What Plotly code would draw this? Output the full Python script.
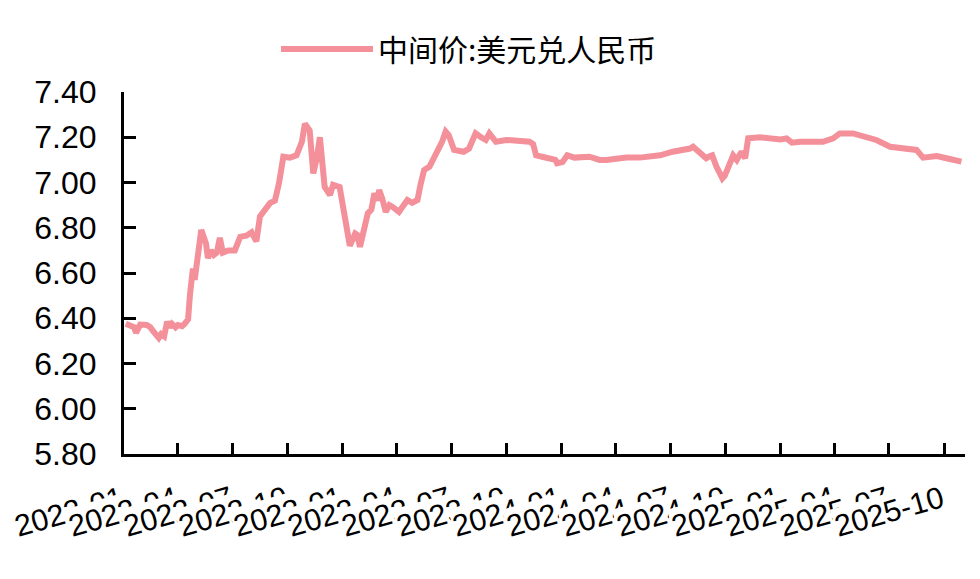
import plotly.graph_objects as go

series_name = "中间价:美元兑人民币"

dates = [
    "2022-01-04", "2022-01-11", "2022-01-18", "2022-01-21", "2022-01-25", "2022-01-28",
    "2022-02-08", "2022-02-14", "2022-02-18", "2022-02-24", "2022-02-28", "2022-03-04",
    "2022-03-09", "2022-03-14", "2022-03-18", "2022-03-22", "2022-03-28", "2022-04-01",
    "2022-04-08", "2022-04-12", "2022-04-18", "2022-04-21", "2022-04-24", "2022-04-26",
    "2022-04-29", "2022-05-04", "2022-05-10", "2022-05-14", "2022-05-18", "2022-05-21",
    "2022-05-26", "2022-05-31", "2022-06-05", "2022-06-10", "2022-06-15", "2022-06-24",
    "2022-07-05", "2022-07-14", "2022-07-24", "2022-08-02", "2022-08-10", "2022-08-16",
    "2022-08-27", "2022-09-02", "2022-09-10", "2022-09-17", "2022-09-24", "2022-10-05",
    "2022-10-16", "2022-10-25", "2022-10-30", "2022-11-04", "2022-11-07", "2022-11-13",
    "2022-11-19", "2022-11-24", "2022-11-27", "2022-12-02", "2022-12-11", "2022-12-16",
    "2022-12-27", "2023-01-05", "2023-01-13", "2023-01-22", "2023-01-25", "2023-01-30",
    "2023-02-05", "2023-02-12", "2023-02-18", "2023-02-23", "2023-02-28", "2023-03-03",
    "2023-03-08", "2023-03-14", "2023-03-20", "2023-03-25", "2023-04-05", "2023-04-12",
    "2023-04-19", "2023-04-27", "2023-05-06", "2023-05-11", "2023-05-17", "2023-05-26",
    "2023-06-03", "2023-06-11", "2023-06-16", "2023-06-22", "2023-06-27", "2023-07-06",
    "2023-07-14", "2023-07-22", "2023-07-31", "2023-08-11", "2023-08-20", "2023-08-28",
    "2023-09-03", "2023-09-14", "2023-10-01", "2023-10-23", "2023-11-09", "2023-11-15",
    "2023-11-20", "2023-11-30", "2023-12-12", "2023-12-22", "2023-12-25", "2024-01-03",
    "2024-01-11", "2024-01-23", "2024-02-17", "2024-03-05", "2024-03-16", "2024-04-01",
    "2024-04-19", "2024-05-11", "2024-05-28", "2024-06-14", "2024-07-05", "2024-07-17",
    "2024-08-03", "2024-08-08", "2024-08-19", "2024-08-30", "2024-09-04", "2024-09-09",
    "2024-09-16", "2024-09-26", "2024-09-30", "2024-10-04", "2024-10-14", "2024-10-20",
    "2024-10-28", "2024-11-03", "2024-11-08", "2024-11-28", "2024-12-14", "2025-01-01",
    "2025-01-11", "2025-01-20", "2025-02-03", "2025-03-13", "2025-03-30", "2025-04-10",
    "2025-05-02", "2025-05-25", "2025-06-10", "2025-07-03", "2025-07-25", "2025-08-16",
    "2025-08-27", "2025-09-19", "2025-10-05", "2025-10-19", "2025-10-30",
]

values = [
    6.376, 6.370, 6.360, 6.335, 6.360, 6.372,
    6.370, 6.360, 6.345, 6.325, 6.313, 6.330,
    6.320, 6.385, 6.360, 6.375, 6.360, 6.370,
    6.365, 6.375, 6.395, 6.500, 6.610, 6.620,
    6.570, 6.680, 6.790, 6.760, 6.730, 6.666,
    6.700, 6.680, 6.690, 6.755, 6.690, 6.700,
    6.700, 6.760, 6.765, 6.780, 6.740, 6.850,
    6.893, 6.910, 6.920, 7.000, 7.114, 7.110,
    7.120, 7.180, 7.260, 7.240, 7.230, 7.040,
    7.110, 7.200, 7.120, 6.980, 6.945, 6.990,
    6.980, 6.820, 6.720, 6.775, 6.770, 6.716,
    6.780, 6.864, 6.880, 6.952, 6.920, 6.967,
    6.930, 6.870, 6.900, 6.893, 6.870, 6.900,
    6.923, 6.910, 6.923, 6.990, 7.055, 7.070,
    7.107, 7.150, 7.180, 7.225, 7.210, 7.144,
    7.140, 7.136, 7.150, 7.217, 7.200, 7.188,
    7.217, 7.180, 7.188, 7.180, 7.180, 7.170,
    7.120, 7.114, 7.107, 7.100, 7.085, 7.090,
    7.120, 7.110, 7.114, 7.100, 7.100, 7.105,
    7.110, 7.110, 7.117, 7.120, 7.136, 7.140,
    7.150, 7.158, 7.130, 7.107, 7.115, 7.120,
    7.070, 7.018, 7.030, 7.060, 7.120, 7.100,
    7.136, 7.107, 7.195, 7.200, 7.195, 7.190,
    7.195, 7.176, 7.180, 7.180, 7.195, 7.217,
    7.217, 7.200, 7.188, 7.158, 7.150, 7.144,
    7.110, 7.117, 7.107, 7.100, 7.092,
]

tick_dates = [
    "2022-01-01", "2022-04-01", "2022-07-01", "2022-10-01",
    "2023-01-01", "2023-04-01", "2023-07-01", "2023-10-01",
    "2024-01-01", "2024-04-01", "2024-07-01", "2024-10-01",
    "2025-01-01", "2025-04-01", "2025-07-01", "2025-10-01",
]
tick_labels = [
    "2022-01", "2022-04", "2022-07", "2022-10",
    "2023-01", "2023-04", "2023-07", "2023-10",
    "2024-01", "2024-04", "2024-07", "2024-10",
    "2025-01", "2025-04", "2025-07", "2025-10",
]

y_ticks = [5.8, 6.0, 6.2, 6.4, 6.6, 6.8, 7.0, 7.2, 7.4]

LINE_COLOR = "#F3909A"
FONT = "Liberation Sans, Arial, sans-serif"

fig = go.Figure()
fig.add_trace(go.Scatter(
    x=dates, y=values, mode="lines", name=series_name,
    line=dict(color=LINE_COLOR, width=6, shape="linear"),
))

# rotated date labels, each drawn over the previous one
annotations = []
for d, lab in zip(tick_dates, tick_labels):
    annotations.append(dict(
        x=d, xref="x", y=0, yref="paper",
        text=lab, showarrow=False, textangle=-16,
        xanchor="right", yanchor="top", yshift=-24, xshift=5,
        bgcolor="white", borderpad=0,
        font=dict(family=FONT, size=30.5, color="black"),
    ))

# longer legend swatch (extends the legend's own line sample to the left)
shapes = [dict(
    type="line", xref="paper", yref="paper",
    x0=(281 - 124) / 841, x1=(356 - 124) / 841,
    y0=(454 - 49) / 362, y1=(454 - 49) / 362,
    line=dict(color=LINE_COLOR, width=6),
)]

fig.update_layout(
    width=972, height=571,
    margin=dict(l=116, r=15, t=84, b=125, autoexpand=False),
    paper_bgcolor="white", plot_bgcolor="white",
    font=dict(family=FONT, color="black"),
    showlegend=True,
    legend=dict(
        orientation="h", xref="paper", yref="paper",
        x=(338 - 124) / 841, xanchor="left",
        y=(454 - 49) / 362, yanchor="middle",
        font=dict(family="Noto Sans CJK SC", size=30, color="black"),
        bgcolor="rgba(0,0,0,0)",
    ),
    annotations=annotations,
    shapes=shapes,
    xaxis=dict(
        type="date", range=["2022-01-01", "2025-11-05"],
        tickmode="array", tickvals=tick_dates, showticklabels=False,
        ticks="inside", ticklen=11, tickwidth=3, tickcolor="black",
        showline=True, linewidth=3, linecolor="black",
        showgrid=False, zeroline=False, automargin=False,
    ),
    yaxis=dict(
        range=[5.8, 7.4], tickmode="array", tickvals=y_ticks,
        tickformat=".2f",
        ticks="inside", ticklen=12, tickwidth=3, tickcolor="black",
        showline=True, linewidth=3, linecolor="black",
        showgrid=False, zeroline=False, automargin=False,
        tickfont=dict(family=FONT, size=32, color="black"),
        ticklabelstandoff=18,
    ),
)

fig.write_html("out.html")
